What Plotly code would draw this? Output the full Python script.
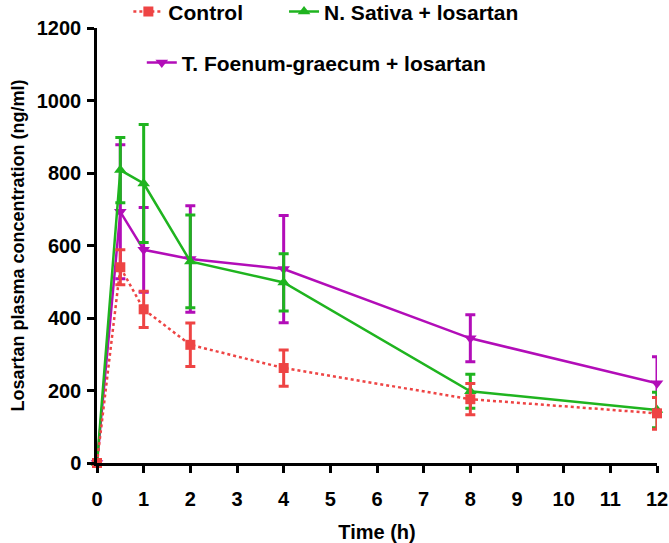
import plotly.graph_objects as go

time = [0, 0.5, 1, 2, 4, 8, 12]
control = [0, 540, 424, 326, 262, 176, 137]
control_err = [0, 48, 50, 60, 50, 43, 44]
sativa = [0, 808, 771, 556, 498, 198, 146]
sativa_err = [0, 90, 163, 128, 79, 47, 49]
foenum = [0, 693, 588, 563, 535, 344, 220]
foenum_err = [0, 185, 117, 147, 148, 65, 73]

RED = "#EE4444"
GREEN = "#1FB41F"
PURPLE = "#B20DB8"

FAM = "Liberation Sans, Arial, sans-serif"
FONT = dict(family=FAM, size=20, color="black", weight="bold")
LFONT = dict(family=FAM, size=21, color="black", weight="bold")
TFONT = dict(family=FAM, size=18, color="black", weight="bold")

fig = go.Figure()

fig.add_trace(go.Scatter(
    x=time, y=foenum, name="T. Foenum-graecum + losartan", mode="lines+markers",
    line=dict(color=PURPLE, width=2.5),
    marker=dict(symbol="triangle-down", size=11, color=PURPLE),
    error_y=dict(type="data", array=foenum_err, color=PURPLE, thickness=3, width=5),
    cliponaxis=False, legend="legend3", showlegend=True,
))
fig.add_trace(go.Scatter(
    x=time, y=sativa, name="N. Sativa + losartan", mode="lines+markers",
    line=dict(color=GREEN, width=2.5),
    marker=dict(symbol="triangle-up", size=11, color=GREEN),
    error_y=dict(type="data", array=sativa_err, color=GREEN, thickness=3, width=5),
    cliponaxis=False, legend="legend2", showlegend=True,
))
fig.add_trace(go.Scatter(
    x=time, y=control, name="Control", mode="lines+markers",
    line=dict(color=RED, width=2.5, dash="dot"),
    marker=dict(symbol="square", size=10, color=RED),
    error_y=dict(type="data", array=control_err, color=RED, thickness=3, width=5),
    cliponaxis=False, legend="legend", showlegend=True,
))

leg = dict(orientation="h", xanchor="left", yanchor="middle",
           font=LFONT, bgcolor="rgba(0,0,0,0)")

fig.update_layout(
    width=669, height=543,
    showlegend=True,
    margin=dict(l=97, r=12, t=28, b=80, autoexpand=False),
    plot_bgcolor="white", paper_bgcolor="white",
    font=FONT,
    legend=dict(leg, x=0.056, y=1.037),
    legend2=dict(leg, x=0.334, y=1.037),
    legend3=dict(leg, x=0.080, y=0.92),
    xaxis=dict(
        range=[0, 12], tickmode="array", tickvals=list(range(13)),
        showline=True, linecolor="black", linewidth=2.5,
        ticks="outside", ticklen=7, tickwidth=2.5, tickcolor="black",
        showgrid=False, zeroline=False, ticklabelstandoff=9,
        title=dict(text="Time (h)", font=FONT, standoff=20),
    ),
    yaxis=dict(
        range=[0, 1200], tickmode="array", tickvals=[0, 200, 400, 600, 800, 1000, 1200],
        showline=True, linecolor="black", linewidth=2.5,
        ticks="outside", ticklen=7, tickwidth=2.5, tickcolor="black",
        showgrid=False, zeroline=False, ticklabelstandoff=2,
        title=dict(text="Losartan plasma concentration (ng/ml)", font=TFONT, standoff=8),
    ),
)

fig.write_html("out.html", config={"displayModeBar": False},
               post_script="document.body.style.margin='0px';")
